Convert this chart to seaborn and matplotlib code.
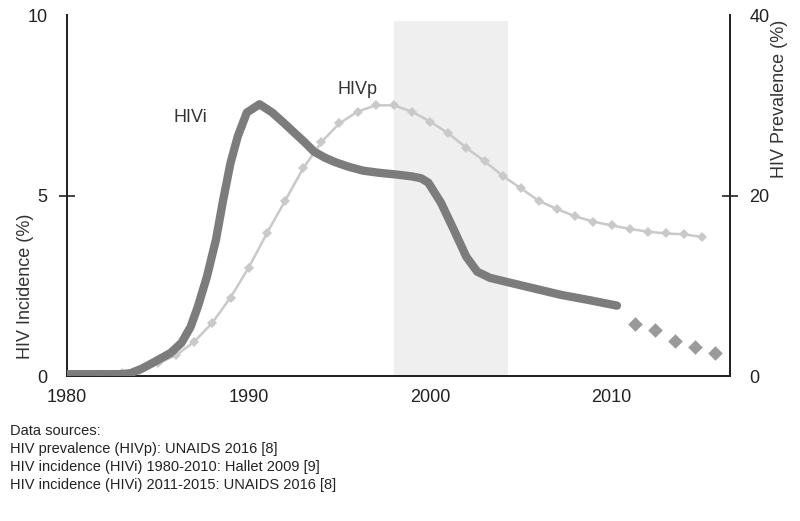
import numpy as np
import pandas as pd
import matplotlib
matplotlib.use("Agg")
import matplotlib.pyplot as plt
import seaborn as sns

# HIV incidence (HIVi), Hallet 2009, 1980-2010
incidence_years = [1980, 1981, 1982, 1983, 1983.5, 1984.1, 1984.7, 1985.2, 1985.7, 1986.3,
                   1986.8, 1987.2, 1987.7, 1988.2, 1988.6, 1989.0, 1989.4, 1989.9, 1990.6, 1991.3,
                   1991.9, 1992.5, 1993.1, 1993.6, 1994.2, 1994.8, 1995.5, 1996.3, 1997.2, 1998.2,
                   1999.0, 1999.5, 1999.9, 2000.6, 2001.3, 2002.0, 2002.6, 2003.3, 2004.2, 2005.7,
                   2007.2, 2008.8, 2010.3]
incidence = [0.05, 0.05, 0.05, 0.05, 0.08, 0.2, 0.36, 0.5, 0.64, 0.92,
             1.36, 1.92, 2.75, 3.78, 4.89, 5.9, 6.64, 7.3, 7.53, 7.3,
             7.03, 6.75, 6.47, 6.22, 6.05, 5.92, 5.8, 5.69, 5.63, 5.58,
             5.53, 5.48, 5.36, 4.8, 4.06, 3.3, 2.89, 2.72, 2.61, 2.43,
             2.25, 2.1, 1.95]

# HIV incidence (HIVi), UNAIDS 2016, 2011-2015
unaids_years = [2011.3, 2012.4, 2013.5, 2014.6, 2015.7]
unaids_incidence = [1.44, 1.28, 0.97, 0.81, 0.63]

# HIV prevalence (HIVp), UNAIDS 2016
prevalence_years = list(range(1980, 2016))
prevalence = [0.0, 0.05, 0.15, 0.3, 0.7, 1.4, 2.3, 3.8, 5.9, 8.7,
              12.0, 15.8, 19.4, 23.0, 25.9, 28.0, 29.3, 30.0, 30.0, 29.3,
              28.2, 26.9, 25.3, 23.8, 22.2, 20.8, 19.4, 18.5, 17.7, 17.1,
              16.7, 16.3, 16.0, 15.8, 15.7, 15.4]

shaded_period = (1998, 2004.3)
x_ticks = [1980, 1990, 2000, 2010]
sources = ["Data sources:",
           "HIV prevalence (HIVp): UNAIDS 2016 [8]",
           "HIV incidence (HIVi) 1980-2010: Hallet 2009 [9]",
           "HIV incidence (HIVi) 2011-2015: UNAIDS 2016 [8]"]

sns.set_style("white")
plt.rcParams['font.family'] = ['Liberation Sans', 'DejaVu Sans']

inc_df = pd.DataFrame({'year': incidence_years, 'value': incidence})
una_df = pd.DataFrame({'year': unaids_years, 'value': unaids_incidence})
prev_df = pd.DataFrame({'year': prevalence_years, 'value': prevalence})

fig = plt.figure(figsize=(8, 5.21), dpi=100)
ax = fig.add_axes([0.084, 0.2783, 0.8285, 0.6927])
ax2 = ax.twinx()

# shaded band sits on the back (prevalence) axes
ax2.axvspan(*shaded_period, ymax=0.985, color='#efefef', zorder=0, lw=0)

# prevalence on right axis
sns.lineplot(data=prev_df, x='year', y='value', ax=ax2, color='#c9c9c9', lw=1.8,
             marker='D', markersize=5.5, markeredgewidth=0, zorder=2)

# incidence on left axis (draw above the twin)
ax.set_zorder(ax2.get_zorder() + 1)
ax.patch.set_visible(False)
sns.lineplot(data=inc_df, x='year', y='value', ax=ax, color='#7c7c7c', lw=6,
             solid_capstyle='round', solid_joinstyle='round', zorder=3)
sns.scatterplot(data=una_df, x='year', y='value', ax=ax, color='#9a9a9a', marker='D',
                s=55, linewidth=0, zorder=3)

xmax = 1980 + 663 / 18.15
ax.set_xlim(1980, xmax)
ax.set_ylim(0, 10)
ax2.set_ylim(0, 40)

ax.set_xticks(x_ticks)
ax.set_yticks([0, 5, 10])
ax2.set_yticks([0, 20, 40])
ax.yaxis.remove_overlapping_locs = False
ax2.yaxis.remove_overlapping_locs = False
ax.set_yticks([5], minor=True)
ax2.set_yticks([20], minor=True)

ax.tick_params(axis='x', length=0, labelsize=13, pad=9, colors='#222222')
ax.tick_params(axis='y', which='major', length=0, labelsize=13, pad=14, colors='#222222')
ax.tick_params(axis='y', which='minor', left=True, length=12, width=1.2,
               direction='inout', color='#222222')
ax2.tick_params(axis='y', which='major', length=0, labelsize=13, pad=14, colors='#222222')
ax2.tick_params(axis='y', which='minor', right=True, left=False, length=12, width=1.2,
                direction='inout', color='#222222')
for a in (ax, ax2):
    a.set_xlabel('')
    a.spines['top'].set_visible(False)
    for s in ('left', 'right', 'bottom'):
        a.spines[s].set_color('#222222')
        a.spines[s].set_linewidth(1.3)

ax.set_ylabel('')
ax2.set_ylabel('')
fig.text(0.032, 0.45, 'HIV Incidence (%)', rotation=90, ha='center', va='center',
         fontsize=13, color='#333333')
fig.text(0.975, 0.81, 'HIV Prevalence (%)', rotation=90, ha='center', va='center',
         fontsize=13, color='#333333')

ax.text(1986.8, 7.15, 'HIVi', fontsize=13, color='#333333', ha='center', va='center')
ax.text(1996.0, 7.95, 'HIVp', fontsize=13, color='#333333', ha='center', va='center')

for i, line in enumerate(sources):
    fig.text(0.012, 0.172 - i * 0.0345, line, fontsize=10.5, color='#222222',
             ha='left', va='center')

fig.savefig('out.png', dpi=100)
